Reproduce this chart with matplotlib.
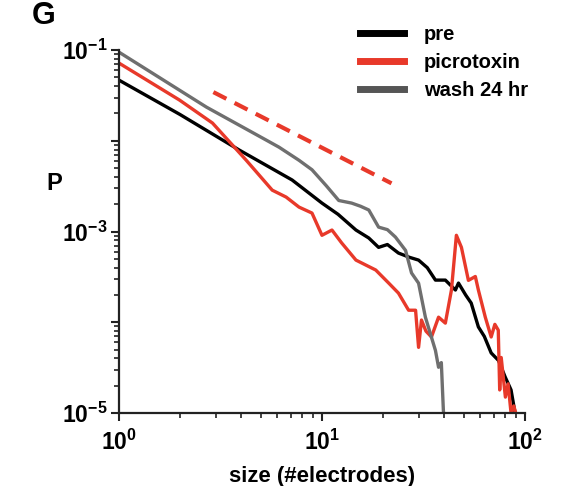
import matplotlib

matplotlib.use('Agg')

import matplotlib.pyplot as plt
from matplotlib.lines import Line2D
from matplotlib.ticker import LogLocator, NullFormatter, FixedLocator
import numpy as np

plt.rcParams['font.family'] = ['Liberation Sans', 'DejaVu Sans']
plt.rcParams['font.weight'] = 'bold'
plt.rcParams['mathtext.fontset'] = 'custom'
plt.rcParams['mathtext.bf'] = 'Liberation Sans:bold'
plt.rcParams['mathtext.rm'] = 'Liberation Sans:bold'

# avalanche size distributions
pre_size = [1, 2, 3.92, 7.13, 10, 12, 14.7, 17, 19, 21, 23.8, 27, 29.9, 33, 36.2, 40.5, 45.4, 47, 51,
            54.3, 58.9, 63, 68.1, 74, 79.8, 85.3, 89.3]
pre_p = [0.0467, 0.0195, 0.0079, 0.0037, 0.00206, 0.00155, 0.00104, 0.00085, 0.00067, 0.00072, 0.00058,
         0.00052, 0.000485, 0.00040, 0.000292, 0.000292, 0.000227, 0.000271, 0.00020,
         0.000163, 0.000089, 0.000070, 0.000046, 0.000038, 0.000025, 0.000018, 0.00001]

picro_size = [1, 1.99, 2.89, 4.24, 5.69, 6.66, 7.71, 8.93, 10, 11.2, 12.5, 14.7, 18.4, 21.3, 23.8, 26.7,
              28.9, 29.9, 30.9, 32.5, 34.6, 37.5, 40.5, 43.4, 45.9, 48.6, 52.6, 56.9, 58.9, 63.7,
              68.1, 71, 73.8, 75, 76.3, 80, 82.5, 85.3, 88, 92.4]
picro_p = [0.072, 0.0281, 0.0157, 0.0061, 0.00286, 0.0024, 0.00186, 0.0016, 0.00091, 0.00104, 0.00075,
           0.000485, 0.000377, 0.000271, 0.00021, 0.000136, 0.000136, 0.000053, 0.000106, 0.00008,
           0.000069, 0.000114, 0.000098, 0.000227, 0.00091, 0.00067, 0.00029, 0.00032, 0.000227,
           0.000114, 0.000069, 0.000095, 0.000082, 0.000018, 0.000041, 0.000015, 0.000021, 0.00001,
           0.000012, 0.000008]

wash_size = [1, 2.7, 5.31, 6.15, 7.71, 8.93, 10.5, 12.1, 14, 15.5, 17, 19, 21, 23, 25.8, 27.6, 29.9,
             32.3, 36.2, 37.5, 38.7, 39.6, 40]
wash_p = [0.095, 0.0235, 0.0102, 0.0085, 0.0061, 0.0048, 0.0032, 0.0022, 0.00206, 0.0019, 0.00173,
          0.00112, 0.00105, 0.00087, 0.00062, 0.00035, 0.00027, 0.000114, 0.000049, 0.000032,
          0.000036, 0.0000108, 0.000008]

# reference power-law slope
slope_size = [2.92, 22.0]
slope_p = [0.0344, 0.0034]

labels = ['pre', 'picrotoxin', 'wash 24 hr']
colors = ['#000000', '#e8392a', '#6f6f6f']

fig = plt.figure(figsize=(5.77, 4.86), dpi=100)
ax = fig.add_axes([0.206, 0.150, 0.704, 0.747])

ax.plot(pre_size, pre_p, color=colors[0], lw=2.4)
ax.plot(picro_size, picro_p, color=colors[1], lw=2.4)
ax.plot(wash_size, wash_p, color=colors[2], lw=2.4)
ax.plot(slope_size, slope_p, color=colors[1], lw=3, ls=(0, (3.5, 2.2)))

ax.set_xscale('log')
ax.set_yscale('log')
ax.set_xlim(1, 100)
ax.set_ylim(1e-5, 1e-1)

for s in ['top', 'right']:
    ax.spines[s].set_visible(False)
for s in ['left', 'bottom']:
    ax.spines[s].set_linewidth(1.6)
    ax.spines[s].set_color('#222222')

ax.xaxis.set_major_locator(FixedLocator([1, 10, 100]))
ax.set_xticklabels([r'$\mathbf{10^{0}}$', r'$\mathbf{10^{1}}$', r'$\mathbf{10^{2}}$'])
ax.xaxis.set_minor_locator(LogLocator(base=10, subs=np.arange(2, 10)))
ax.xaxis.set_minor_formatter(NullFormatter())

ax.yaxis.set_major_locator(FixedLocator([1e-5, 1e-4, 1e-3, 1e-2, 1e-1]))
ax.set_yticklabels([r'$\mathbf{10^{-5}}$', '', r'$\mathbf{10^{-3}}$', '', r'$\mathbf{10^{-1}}$'])
ax.yaxis.set_minor_locator(LogLocator(base=10, subs=np.arange(2, 10)))
ax.yaxis.set_minor_formatter(NullFormatter())

ax.tick_params(which='major', length=6, width=1.5, labelsize=16.5, color='#222222')
ax.tick_params(axis='x', which='major', pad=6)
ax.tick_params(axis='y', which='major', pad=2)
ax.tick_params(which='minor', length=3.5, width=1.2, color='#222222')

ax.set_xlabel('size (#electrodes)', fontsize=16, fontweight='bold', labelpad=8)
ax.set_ylabel('P', fontsize=17, fontweight='bold', rotation=0)
ax.yaxis.set_label_coords(-0.16, 0.6)

handles = [Line2D([0], [0], color=c, lw=5) for c in ['#000000', '#e8392a', '#555555']]
ax.legend(handles, labels, loc='upper left', bbox_to_anchor=(0.594, 1.07), frameon=False,
          fontsize=14.5, handlelength=2.2, handletextpad=0.95, labelspacing=0.45,
          borderpad=0, borderaxespad=0)

fig.text(0.055, 0.998, 'G', fontsize=22, fontweight='bold', va='top')

fig.savefig('out.png', dpi=100)
